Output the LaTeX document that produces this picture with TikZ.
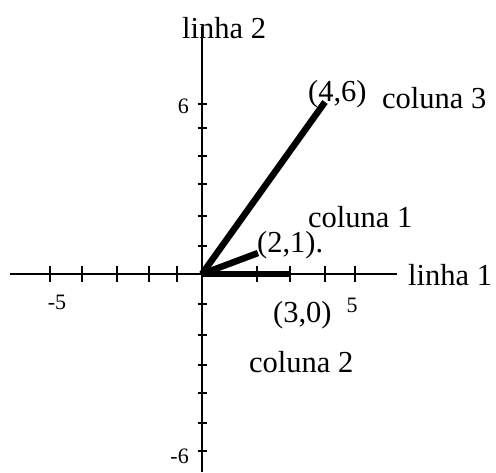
\documentclass[tikz,border=0pt]{standalone}
\usepackage{fontspec}
\setmainfont{Liberation Serif}
\begin{document}
\begin{tikzpicture}[x=1pt,y=-1pt,
  axis/.style={line width=1.4pt},
  tick/.style={line width=1.4pt},
  vec/.style={line width=6.5pt},
  lbl/.style={inner sep=0pt,anchor=base west,font=\fontsize{30.5}{32}\selectfont},
  num/.style={inner sep=0pt,font=\fontsize{22}{23}\selectfont}]
\useasboundingbox (0,0) rectangle (496,472);
\coordinate (O) at (202,274);
\coordinate (xl) at (10,274);
\coordinate (xr) at (397,274);
\coordinate (yt) at (202,27);
\coordinate (yb) at (202,472);
\draw[axis] (xl) -- (xr);
\draw[axis] (yt) -- (yb);
\foreach \x in {50,82,117,149,177,257,290,325,355}
  \draw[tick] (\x,266) -- (\x,282);
\foreach \y in {104,128,156,184,216,246,304,335,365,393,423,451}
  \draw[tick] (197.5,\y) -- (206.5,\y);
\coordinate (v1) at (258,253);
\coordinate (v2) at (290,274);
\coordinate (v3) at (325,102);
\draw[vec] (O) -- (v1);
\draw[vec] (O) -- (v2);
\draw[vec] (O) -- (v3);
\node[lbl] (l2) at (182,38) {linha 2};
\node[lbl] (l1) at (408,285) {linha 1};
\node[lbl] (c3) at (382,108) {coluna 3};
\node[lbl] (p46) at (308,101) {(4,6)};
\node[lbl] (c1) at (308,227) {coluna 1};
\node[lbl] (p21) at (257,252) {(2,1).};
\node[lbl] (p30) at (273,322) {(3,0)};
\node[lbl] (c2) at (249,372) {coluna 2};
\node[num] (n5) at (352,305) {5};
\node[num] (nm5) at (57,302) {-5};
\node[num,anchor=east] (n6) at (189,106) {6};
\node[num,anchor=east] (nm6) at (189,456) {-6};
\end{tikzpicture}
\end{document}
